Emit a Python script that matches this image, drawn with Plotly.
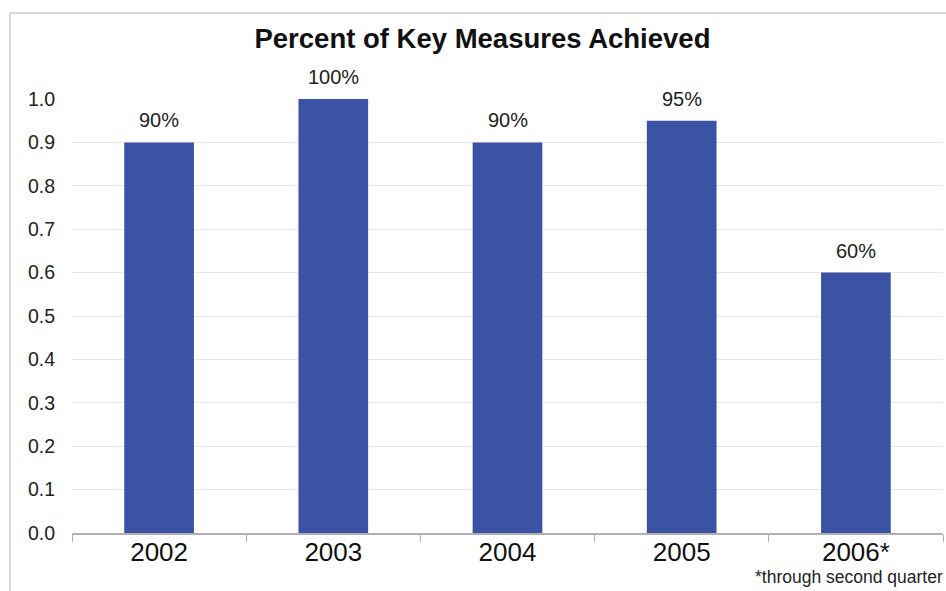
import plotly.graph_objects as go

years = ["2002", "2003", "2004", "2005", "2006*"]
achieved = [0.90, 1.00, 0.90, 0.95, 0.60]
labels = ["90%", "100%", "90%", "95%", "60%"]
y_ticks = [0.0, 0.1, 0.2, 0.3, 0.4, 0.5, 0.6, 0.7, 0.8, 0.9, 1.0]

font_family = "Liberation Sans, Arial, sans-serif"

fig = go.Figure(
    go.Bar(
        x=years,
        y=achieved,
        marker=dict(color="#3A53A4", line=dict(width=0)),
        cliponaxis=False,
    )
)

# value labels above each bar (category axis positions by index)
value_notes = [
    dict(x=i, y=val, xref="x", yref="y", text=lab,
         showarrow=False, yanchor="bottom", yshift=9,
         font=dict(size=20, color="#222222", family=font_family))
    for i, (val, lab) in enumerate(zip(achieved, labels))
]

fig.update_layout(
    width=946,
    height=591,
    margin=dict(l=72, r=3, t=99, b=58),
    paper_bgcolor="white",
    plot_bgcolor="white",
    bargap=0.6,
    showlegend=False,
    font=dict(family=font_family, color="#222222"),
    title=dict(
        text="<b>Percent of Key Measures Achieved</b>",
        x=0.51,
        xanchor="center",
        y=0.935,
        yanchor="middle",
        font=dict(size=27.5, color="#111111", family=font_family),
    ),
    xaxis=dict(
        type="category",
        range=[-0.5, len(years) - 0.5],
        showline=True,
        linecolor="#b0b0b0",
        linewidth=1.5,
        ticks="outside",
        tickson="boundaries",
        ticklen=7,
        tickcolor="#b0b0b0",
        tickangle=0,
        automargin=False,
        ticklabelstandoff=-5,
        tickfont=dict(size=26, color="#111111"),
        showgrid=False,
    ),
    yaxis=dict(
        range=[0, 1.0],
        tickvals=y_ticks,
        tickformat=".1f",
        tickfont=dict(size=19.5, color="#222222"),
        showgrid=True,
        gridcolor="#e8e8e8",
        gridwidth=1,
        zeroline=False,
        showline=False,
        ticks="",
        automargin=False,
        ticklabelstandoff=16,
    ),
    shapes=[
        dict(type="line", xref="paper", yref="paper",
             x0=-0.0712, x1=-0.0712, y0=-0.2, y1=1.198,
             line=dict(color="#d8d8d8", width=2)),
        dict(type="line", xref="paper", yref="paper",
             x0=-0.0712, x1=1.1, y0=1.198, y1=1.198,
             line=dict(color="#d8d8d8", width=2)),
    ],
    annotations=value_notes + [
        dict(text="*through second quarter", xref="paper", yref="paper",
             x=1.002, y=-0.101, xanchor="right", yanchor="middle",
             showarrow=False, font=dict(size=17.5, color="#222222")),
    ],
)

fig.write_html("out.html")
